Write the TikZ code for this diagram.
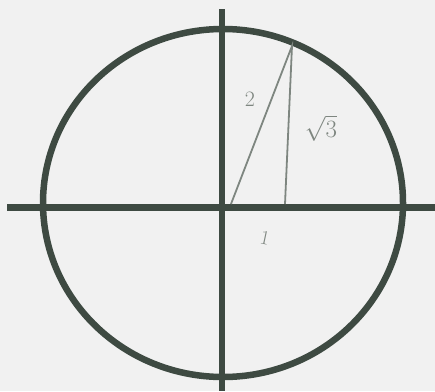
\documentclass[tikz,border=0pt]{standalone}
\begin{document}
\begin{tikzpicture}[x=1pt,y=-1pt,
  thick axis/.style={draw=axiscol,line width=6.5pt},
  thin pen/.style={draw=pencol,line width=1.8pt},
  lab/.style={text=pencol,inner sep=0pt}]
\definecolor{axiscol}{HTML}{3E4A42}
\definecolor{pencol}{HTML}{7E8680}
\definecolor{bgcol}{HTML}{F1F1F1}
\fill[bgcol] (0,0) rectangle (435,391);
\useasboundingbox (0,0) rectangle (435,391);
\coordinate (C) at (223,203);
\draw[thick axis] (C) ellipse [x radius=180, y radius=174];
\coordinate (L) at (7,207.5);
\coordinate (R) at (435,207.5);
\coordinate (T) at (222,9);
\coordinate (B) at (222,391);
\draw[thick axis] (L) -- (R);
\draw[thick axis] (T) -- (B);
\coordinate (O) at (231,204);
\coordinate (P) at (292,46);
\coordinate (F) at (285,204);
\draw[thin pen] (O) -- (P) -- (F);
\node[lab,font=\fontsize{22}{22}\selectfont] (two) at (250,99) {2};
\node[lab,font=\fontsize{26}{26}\selectfont] (rt) at (321,128) {$\sqrt{3}$};
\node[lab,font=\fontsize{20}{20}\selectfont,rotate=-12] (one) at (265,238) {1};
\end{tikzpicture}
\end{document}
